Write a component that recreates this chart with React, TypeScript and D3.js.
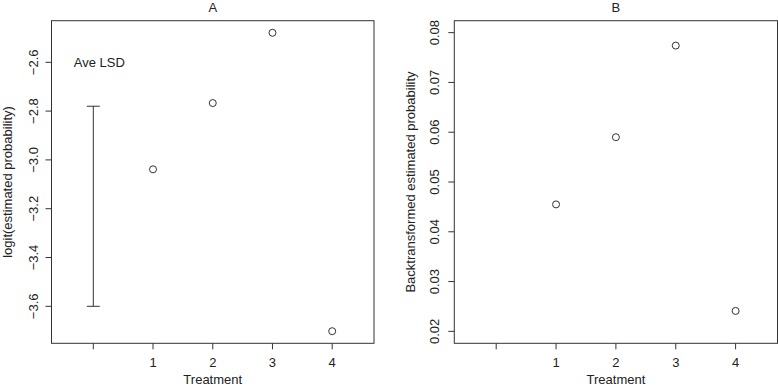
import React from "react";
import * as d3 from "d3";

const treatments = [1, 2, 3, 4];
const logitValues = [-3.0385, -2.767, -2.479, -3.702];
const probValues = [0.0455, 0.059, 0.0774, 0.0241];
const xTickValues = [0, 1, 2, 3, 4];
const xTickLabels = ["", "1", "2", "3", "4"];
const yTicksA = [-3.6, -3.4, -3.2, -3.0, -2.8, -2.6];
const yTicksB = [0.02, 0.03, 0.04, 0.05, 0.06, 0.07, 0.08];
const lsdRange = [-3.6, -2.78];
const lsdLabel = "Ave LSD";
const lsdLabelPos = [0.1, -2.6];
const titles = ["A", "B"];
const xTitle = "Treatment";
const yTitles = ["logit(estimated probability)", "Backtransformed estimated probability"];

const W = 778;
const H = 387;
const FONT = "'Liberation Sans', Arial, Helvetica, sans-serif";
const TXT = "#222";
const LINE = "#333";

type PanelProps = {
  left: number;
  right: number;
  top: number;
  bottom: number;
  yDomain: [number, number];
  yTicks: number[];
  yFmt: (v: number) => string;
  values: number[];
  title: string;
  yTitle: string;
  yTitleX: number;
  yTickX: number;
  lsd?: boolean;
};

function Panel(p: PanelProps) {
  const x = d3.scaleLinear().domain([-0.7, 4.7]).range([p.left, p.right]);
  const y = d3.scaleLinear().domain(p.yDomain).range([p.bottom, p.top]);
  const cx = (p.left + p.right) / 2;
  const cy = (p.top + p.bottom) / 2;
  return (
    <g fontFamily={FONT} fontSize={13} fill={TXT}>
      <rect x={p.left} y={p.top} width={p.right - p.left} height={p.bottom - p.top} fill="none" stroke={LINE} strokeWidth={1} />
      <text x={cx} y={12} textAnchor="middle">{p.title}</text>
      {xTickValues.map((v, i) => (
        <g key={"xt" + i}>
          <line x1={x(v)} x2={x(v)} y1={p.bottom} y2={p.bottom + 6} stroke={LINE} />
          <text x={x(v)} y={366.5} textAnchor="middle">{xTickLabels[i]}</text>
        </g>
      ))}
      <text x={cx} y={384} textAnchor="middle">{xTitle}</text>
      {p.yTicks.map((v, i) => (
        <g key={"yt" + i}>
          <line x1={p.left - 6} x2={p.left} y1={y(v)} y2={y(v)} stroke={LINE} />
          <text transform={`translate(${p.yTickX},${y(v)}) rotate(-90)`} textAnchor="middle">{p.yFmt(v)}</text>
        </g>
      ))}
      <text transform={`translate(${p.yTitleX},${cy}) rotate(-90)`} textAnchor="middle">{p.yTitle}</text>
      {p.values.map((v, i) => (
        <circle key={"pt" + i} cx={x(treatments[i])} cy={y(v)} r={3.5} fill="none" stroke={LINE} strokeWidth={1} />
      ))}
      {p.lsd && (
        <g stroke={LINE} strokeWidth={1}>
          <line x1={x(0)} x2={x(0)} y1={y(lsdRange[0])} y2={y(lsdRange[1])} />
          <line x1={x(0) - 6.5} x2={x(0) + 6.5} y1={y(lsdRange[0])} y2={y(lsdRange[0])} />
          <line x1={x(0) - 6.5} x2={x(0) + 6.5} y1={y(lsdRange[1])} y2={y(lsdRange[1])} />
          <text x={x(lsdLabelPos[0])} y={y(lsdLabelPos[1]) + 4.5} textAnchor="middle" stroke="none" fill={TXT}>{lsdLabel}</text>
        </g>
      )}
    </g>
  );
}

export default function App() {
  const fmtA = (v: number) => d3.format(".1f")(v).replace("-", "\u2212").replace("−", "\u2212");
  const fmtB = (v: number) => d3.format(".2f")(v);
  return (
    <svg width={W} height={H} style={{ position: "absolute", left: 0, top: 0, display: "block", background: "#fff" }}>
      <rect x={0} y={0} width={W} height={H} fill="#fff" />
      <Panel
        left={51.5}
        right={374}
        top={20.7}
        bottom={343.3}
        yDomain={[-3.7516, -2.4295]}
        yTicks={yTicksA}
        yFmt={fmtA}
        values={logitValues}
        title={titles[0]}
        yTitle={yTitles[0]}
        yTitleX={12}
        yTickX={37.5}
        lsd
      />
      <Panel
        left={454.3}
        right={777.5}
        top={20.7}
        bottom={343.3}
        yDomain={[0.0176, 0.0824]}
        yTicks={yTicksB}
        yFmt={fmtB}
        values={probValues}
        title={titles[1]}
        yTitle={yTitles[1]}
        yTitleX={414.5}
        yTickX={439}
      />
    </svg>
  );
}
